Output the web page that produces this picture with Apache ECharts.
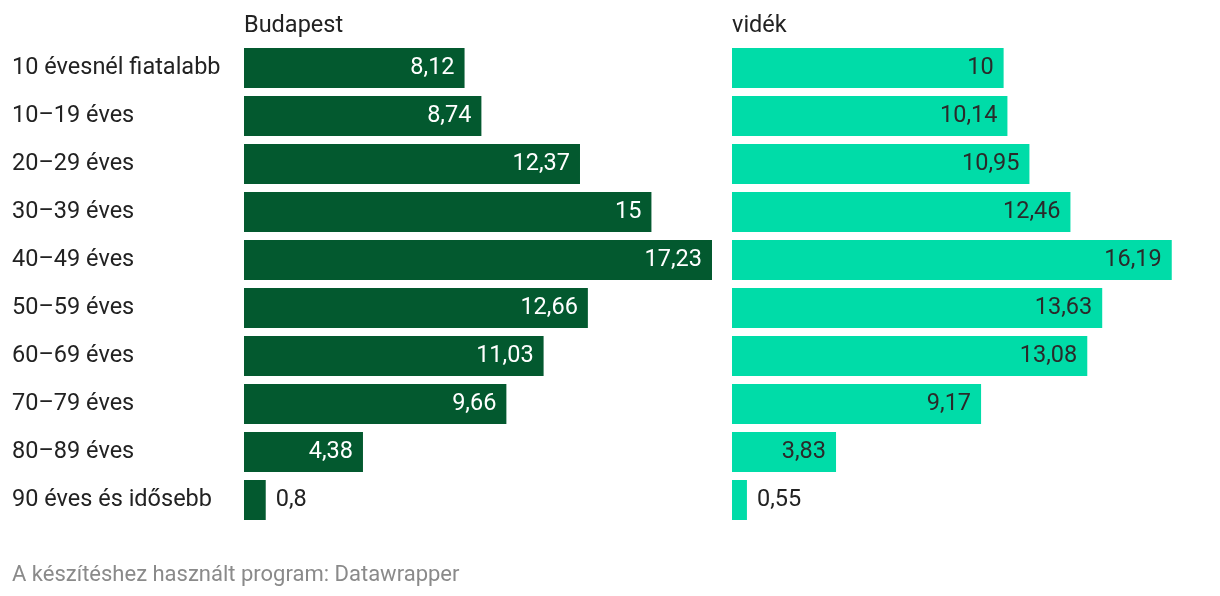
<!DOCTYPE html>
<html>
<head>
<meta charset="utf-8">
<script src="https://cdn.jsdelivr.net/npm/echarts@6/dist/echarts.min.js"></script>
<style>
html,body{margin:0;padding:0;background:#fff;}
#chart{width:1220px;height:596px;}
</style>
</head>
<body>
<div id="chart"></div>
<script>
const categories = ["10 évesnél fiatalabb","10–19 éves","20–29 éves","30–39 éves","40–49 éves","50–59 éves","60–69 éves","70–79 éves","80–89 éves","90 éves és idősebb"];
const budapest = [8.12, 8.74, 12.37, 15, 17.23, 12.66, 11.03, 9.66, 4.38, 0.8];
const videk = [10, 10.14, 10.95, 12.46, 16.19, 13.63, 13.08, 9.17, 3.83, 0.55];
const panelTitles = ["Budapest", "vidék"];
const footer = "A készítéshez használt program: Datawrapper";

const FONT = "Roboto, 'Noto Sans', sans-serif";
const FS = 23.5;
const fmt = v => String(v).replace('.', ',');

function makeData(arr, insideColor) {
  return arr.map(v => ({
    value: v,
    label: v < 2
      ? { position: 'right', distance: 10, color: '#222' }
      : { position: 'insideRight', distance: 10, color: insideColor }
  }));
}

const chart = echarts.init(document.getElementById('chart'), null, {renderer: 'canvas'});
const xMax = 17.23;
const commonX = {type: 'value', min: 0, max: xMax, show: false};

chart.setOption({
  backgroundColor: '#fff',
  animation: false,
  textStyle: {fontFamily: FONT},
  title: [
    {text: panelTitles[0], left: 244, top: 14, textStyle: {fontFamily: FONT, fontSize: FS, fontWeight: 'normal', color: '#222'}, padding: 0},
    {text: panelTitles[1], left: 732, top: 14, textStyle: {fontFamily: FONT, fontSize: FS, fontWeight: 'normal', color: '#222'}, padding: 0},
    {text: footer, left: 12, top: 564, textStyle: {fontFamily: FONT, fontSize: 22, fontWeight: 'normal', color: '#8a8a8a'}, padding: 0}
  ],
  grid: [
    {left: 244, width: 468, top: 44, height: 480},
    {left: 732, width: 468, top: 44, height: 480}
  ],
  xAxis: [
    Object.assign({gridIndex: 0}, commonX),
    Object.assign({gridIndex: 1}, commonX)
  ],
  yAxis: [
    {type: 'category', gridIndex: 0, data: categories, inverse: true,
     axisLine: {show: false}, axisTick: {show: false}, splitLine: {show: false},
     axisLabel: {align: 'left', margin: 232, fontSize: FS, color: '#222', fontFamily: FONT, padding: [4, 0, 0, 0]}},
    {type: 'category', gridIndex: 1, data: categories, inverse: true,
     axisLine: {show: false}, axisTick: {show: false}, splitLine: {show: false},
     axisLabel: {show: false}}
  ],
  series: [
    {type: 'bar', xAxisIndex: 0, yAxisIndex: 0, barWidth: 40,
     itemStyle: {color: '#03592f'},
     label: {show: true, fontSize: FS, fontFamily: FONT, padding: [4, 0, 0, 0], formatter: p => fmt(p.value)},
     data: makeData(budapest, '#ffffff')},
    {type: 'bar', xAxisIndex: 1, yAxisIndex: 1, barWidth: 40,
     itemStyle: {color: '#00dca8'},
     label: {show: true, fontSize: FS, fontFamily: FONT, padding: [4, 0, 0, 0], formatter: p => fmt(p.value)},
     data: makeData(videk, '#2a2a2a')}
  ]
});
</script>
</body>
</html>
